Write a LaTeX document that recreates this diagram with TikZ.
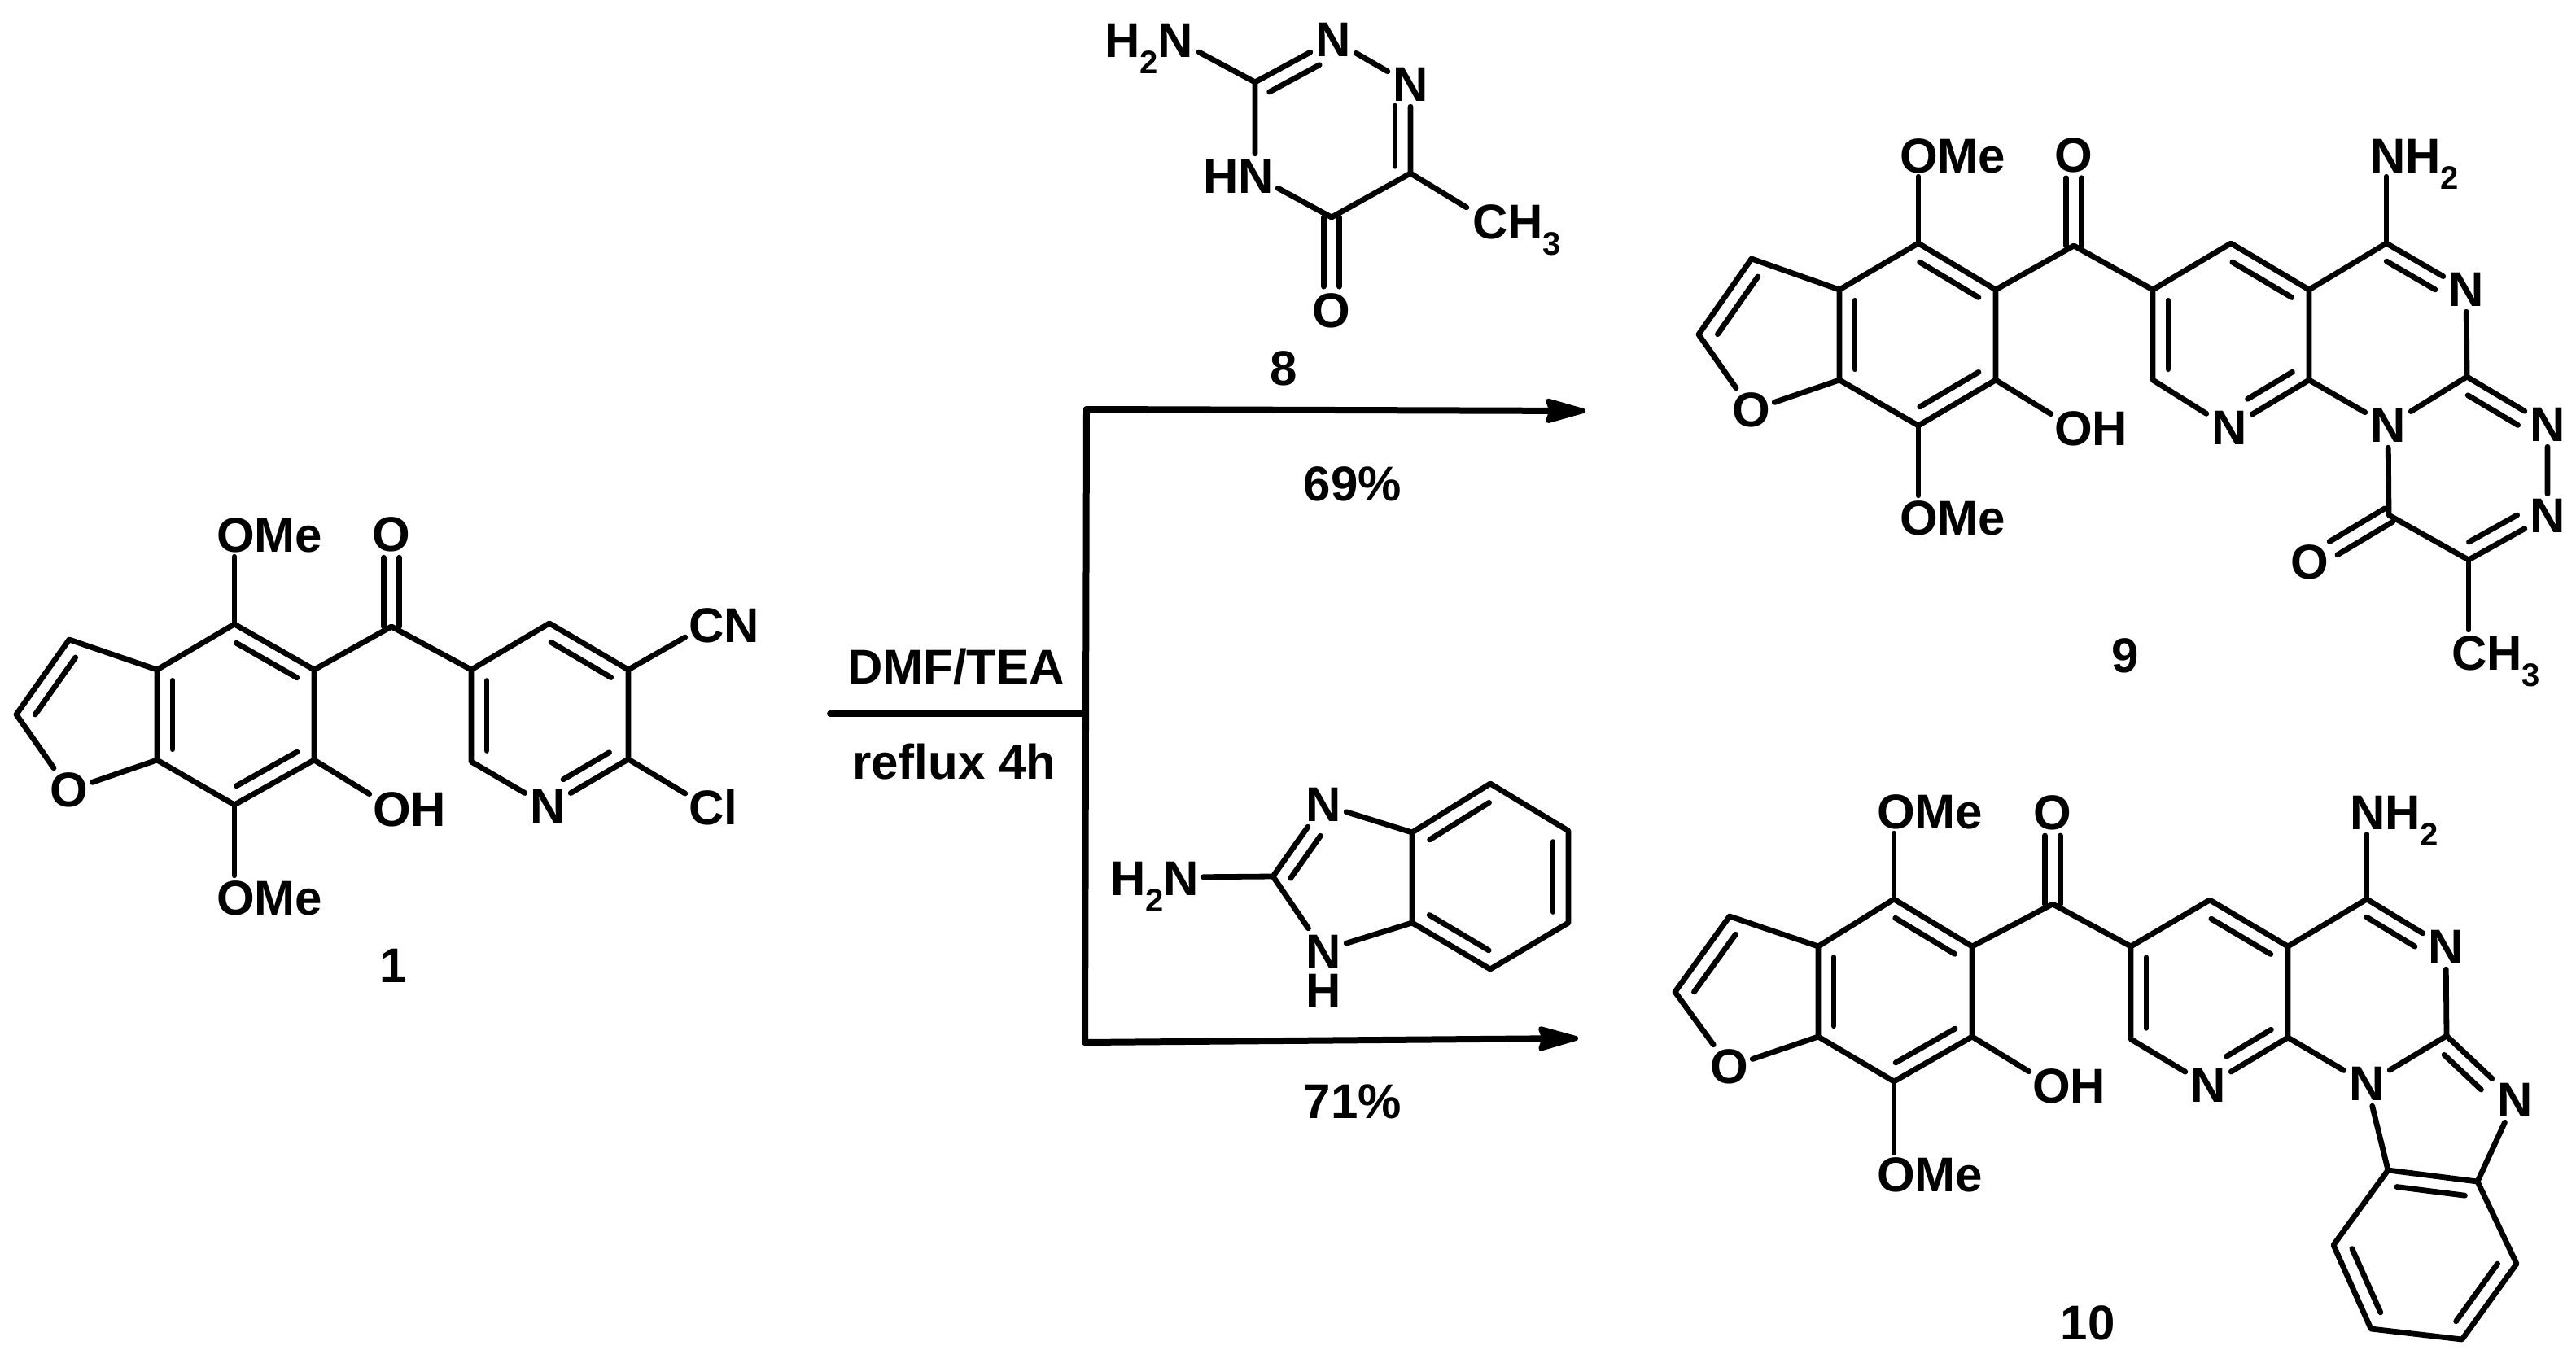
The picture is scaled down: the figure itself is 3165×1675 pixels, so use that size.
\documentclass[tikz,border=0pt]{standalone}
\usepackage{fontspec}
\setmainfont{Liberation Sans}
\usetikzlibrary{calc,arrows.meta}
\newcommand\lab{\fontsize{60}{60}\selectfont\bfseries}
\newcommand\subs[1]{\raisebox{-20pt}{\fontsize{40}{40}\selectfont #1}}
% inner line of a double bond, on the right-hand side of a->b
\newcommand\dblf[4]{\draw[bond] ($(#1)!#3!(#2)!19pt!-90:(#2)$) -- ($(#2)!#4!(#1)!19pt!90:(#1)$);}
\newcommand\dbl[2]{\dblf{#1}{#2}{.12}{.12}}
% symmetric double bond a=b, ending at fraction #3 of the way
\newcommand\sdbl[3]{\draw[bond] ($(#1)!9.5pt!90:(#2)$) -- ($(#1)!#3!(#2)!9.5pt!90:(#2)$);
  \draw[bond] ($(#1)!9.5pt!-90:(#2)$) -- ($(#1)!#3!(#2)!9.5pt!-90:(#2)$);}
\tikzset{
  bond/.style={line width=6.8pt,line cap=round,line join=round,black},
  rxn/.style={line width=8pt,line cap=round,line join=round,black},
  rxnhead/.style={rxn,-{Stealth[round,length=58pt,width=32pt,inset=5pt,line width=6pt]}},
  atom/.style={rectangle,inner sep=0pt,minimum width=56pt,minimum height=54pt,font=\lab},
  txt/.style={inner sep=0pt,anchor=base west,font=\lab},
  ctr/.style={inner sep=0pt,anchor=base,font=\lab}
}
\begin{document}
\begin{tikzpicture}[x=1pt,y=-1pt]
\useasboundingbox (0,0) rectangle (3165,1675);

% ===== compound 1 =====
\coordinate (a1) at (288,767);\coordinate (a2) at (386,823);\coordinate (a3) at (386,934);
\coordinate (a4) at (288,989);\coordinate (a5) at (193,934);\coordinate (a6) at (193,823);
\coordinate (af3) at (85,786);\coordinate (af2) at (20,878);
\node[atom] (afO) at (85,971) {O};
\coordinate (ac) at (481,770);\node[atom] (acO) at (481,657) {O};
\coordinate (ap1) at (579,823);\coordinate (ap2) at (675,766);\coordinate (ap3) at (772,823);
\coordinate (ap4) at (772,933);\node[atom] (apN) at (673,991) {N};\coordinate (ap6) at (579,936);
\node[atom] (aOa) at (288,657) {};\node[txt] (aOat) at (266,678) {OMe};
\node[atom] (aOb) at (288,1103) {};\node[txt] (aObt) at (266,1124) {OMe};
\node[atom] (aOH) at (482,993) {};\node[txt] (aOHt) at (458,1015) {OH};
\node[atom] (aCN) at (870,767) {};\node[txt] (aCNt) at (846,789) {CN};
\node[atom] (aCl) at (870,992) {};\node[txt] (aClt) at (846,1013) {Cl};
\node[ctr] (alab) at (483,1207) {1};
\draw[bond] (a1)--(a2)--(a3)--(a4)--(a5)--(a6)--cycle;
\draw[bond] (a6)--(af3)--(af2)--(afO)--(a5);
\draw[bond] (a1)--(aOa);\draw[bond] (a4)--(aOb);\draw[bond] (a3)--(aOH);
\draw[bond] (a2)--(ac)--(ap1);\sdbl{ac}{acO}{.75}
\draw[bond] (ap1)--(ap2)--(ap3)--(ap4)--(apN)--(ap6)--(ap1);
\draw[bond] (ap3)--(aCN);\draw[bond] (ap4)--(aCl);
\dbl{a1}{a2}\dbl{a3}{a4}\dbl{a5}{a6}\dbl{af2}{af3}\dbl{ap6}{ap1}\dbl{ap2}{ap3}\dblf{ap4}{apN}{.14}{.29}

% ===== reagent 8 =====
\node[atom] (bNa) at (1445,49) {};\node[txt] (bNat) at (1357,71) {H\subs{2}N};
\coordinate (bc1) at (1542,101);
\node[atom] (bN1) at (1638,49) {N};\node[atom] (bN2) at (1733,104) {N};
\coordinate (bc6) at (1733,213);\coordinate (bc5) at (1636,267);
\node[atom] (bNH) at (1542,216) {};\node[txt] (bNHt) at (1478,237) {HN};
\node[atom] (bO) at (1636,382) {O};
\node[atom] (bMe) at (1830,272) {};\node[txt] (bMet) at (1809,293) {CH\subs{3}};
\node[ctr] (blab) at (1577,473) {8};
\draw[bond] (bNa)--(bc1)--(bN1)--(bN2)--(bc6)--(bc5)--(bNH)--(bc1);
\draw[bond] (bc6)--(bMe);\sdbl{bc5}{bO}{.74}
\dblf{bc1}{bN1}{.09}{.27}\dblf{bN2}{bc6}{.24}{.08}

% ===== reagent 2-aminobenzimidazole =====
\node[atom] (cNa) at (1450,1078) {};\node[txt] (cNat) at (1364,1100) {H\subs{2}N};
\coordinate (cc2) at (1564,1077);
\node[atom] (cN3) at (1626,989) {N};\node[atom] (cN1) at (1626,1168) {};
\node[inner sep=0pt,align=center,font=\fontsize{60}{48}\selectfont\bfseries] (cN1t) at (1626,1194) {N\\H};
\coordinate (cc3a) at (1735,1023);\coordinate (cc7a) at (1735,1134);
\coordinate (cc4) at (1831,963);\coordinate (cc5) at (1927,1021);
\coordinate (cc6) at (1927,1134);\coordinate (cc7) at (1831,1191);
\draw[bond] (cNa)--(cc2)--(cN3)--(cc3a)--(cc7a)--(cN1)--(cc2);
\draw[bond] (cc3a)--(cc4)--(cc5)--(cc6)--(cc7)--(cc7a);
\dblf{cc2}{cN3}{.10}{.31}\dbl{cc3a}{cc4}\dbl{cc5}{cc6}\dbl{cc7}{cc7a}

% ===== compound 9 =====
\coordinate (d1) at (2357,299);\coordinate (d2) at (2452,356);\coordinate (d3) at (2452,467);
\coordinate (d4) at (2357,523);\coordinate (d5) at (2260,467);\coordinate (d6) at (2260,356);
\coordinate (df3) at (2152,318);\coordinate (df2) at (2087,411);
\node[atom] (dfO) at (2152,504) {O};
\node[atom] (dOa) at (2357,190) {};\node[txt] (dOat) at (2334,212) {OMe};
\node[atom] (dOb) at (2357,636) {};\node[txt] (dObt) at (2334,657) {OMe};
\node[atom] (dOH) at (2548,526) {};\node[txt] (dOHt) at (2524,547) {OH};
\coordinate (dc) at (2548,302);\node[atom] (dcO) at (2548,191) {O};
\coordinate (dp1) at (2645,356);\coordinate (dp2) at (2741,299);\coordinate (dp3) at (2837,356);
\coordinate (dp4) at (2837,467);\node[atom] (dpN) at (2739,526) {N};\coordinate (dp6) at (2645,467);
\coordinate (dq4) at (2932,299);
\node[atom] (dNa) at (2932,190) {};\node[txt] (dNat) at (2912,212) {NH\subs{2}};
\node[atom] (dN5) at (3030,356) {N};\coordinate (dq2) at (3031,463);
\node[atom] (dNb) at (2934,523) {N};\node[atom] (dN3) at (3130,522) {N};
\node[atom] (dN4) at (3130,634) {N};\coordinate (dq6) at (3033,688);
\coordinate (dq7) at (2935,633);\node[atom] (dqO) at (2838,691) {O};
\node[atom] (dMe) at (3033,801) {};\node[txt] (dMet) at (3012,823) {CH\subs{3}};
\node[ctr] (dlab) at (2611,826) {9};
\draw[bond] (d1)--(d2)--(d3)--(d4)--(d5)--(d6)--cycle;
\draw[bond] (d6)--(df3)--(df2)--(dfO)--(d5);
\draw[bond] (d1)--(dOa);\draw[bond] (d4)--(dOb);\draw[bond] (d3)--(dOH);
\draw[bond] (d2)--(dc)--(dp1);\sdbl{dc}{dcO}{.75}
\draw[bond] (dp1)--(dp2)--(dp3)--(dp4)--(dpN)--(dp6)--(dp1);
\draw[bond] (dp3)--(dq4)--(dN5)--(dq2)--(dNb)--(dp4);
\draw[bond] (dq4)--(dNa);
\draw[bond] (dq2)--(dN3)--(dN4)--(dq6)--(dq7)--(dNb);
\draw[bond] (dq6)--(dMe);\sdbl{dq7}{dqO}{.7}
\dbl{d1}{d2}\dbl{d3}{d4}\dbl{d5}{d6}\dbl{df2}{df3}\dbl{dp6}{dp1}\dbl{dp2}{dp3}
\dblf{dp4}{dpN}{.11}{.33}\dblf{dq4}{dN5}{.10}{.29}\dblf{dq2}{dN3}{.11}{.27}\dblf{dN4}{dq6}{.29}{.10}

% ===== compound 10 =====
\coordinate (e1) at (2327,1105);\coordinate (e2) at (2423,1163);\coordinate (e3) at (2423,1274);
\coordinate (e4) at (2327,1329);\coordinate (e5) at (2234,1274);\coordinate (e6) at (2234,1163);
\coordinate (ef3) at (2125,1126);\coordinate (ef2) at (2058,1219);
\node[atom] (efO) at (2125,1311) {O};
\node[atom] (eOa) at (2327,997) {};\node[txt] (eOat) at (2306,1018) {OMe};
\node[atom] (eOb) at (2327,1444) {};\node[txt] (eObt) at (2306,1464) {OMe};
\node[atom] (eOH) at (2521,1334) {};\node[txt] (eOHt) at (2497,1355) {OH};
\coordinate (ec) at (2522,1111);\node[atom] (ecO) at (2522,999) {O};
\coordinate (ep1) at (2618,1163);\coordinate (ep2) at (2715,1106);\coordinate (ep3) at (2811,1163);
\coordinate (ep4) at (2811,1275);\node[atom] (epN) at (2713,1334) {N};\coordinate (ep6) at (2618,1277);
\coordinate (eq4) at (2908,1105);
\node[atom] (eNa) at (2908,998) {};\node[txt] (eNat) at (2887,1019) {NH\subs{2}};
\node[atom] (eN5) at (3005,1164) {N};\coordinate (eq2) at (3006,1273);
\node[atom] (eNb) at (2908,1332) {N};\node[atom] (eN3) at (3090,1352) {N};
\coordinate (er1) at (2934,1438);\coordinate (er2) at (3044,1452);\coordinate (er3) at (3092,1553);
\coordinate (er4) at (3025,1646);\coordinate (er5) at (2913,1633);\coordinate (er6) at (2867,1530);
\node[ctr] (elab) at (2565,1646) {10};
\draw[bond] (e1)--(e2)--(e3)--(e4)--(e5)--(e6)--cycle;
\draw[bond] (e6)--(ef3)--(ef2)--(efO)--(e5);
\draw[bond] (e1)--(eOa);\draw[bond] (e4)--(eOb);\draw[bond] (e3)--(eOH);
\draw[bond] (e2)--(ec)--(ep1);\sdbl{ec}{ecO}{.75}
\draw[bond] (ep1)--(ep2)--(ep3)--(ep4)--(epN)--(ep6)--(ep1);
\draw[bond] (ep3)--(eq4)--(eN5)--(eq2)--(eNb)--(ep4);
\draw[bond] (eq4)--(eNa);
\draw[bond] (eq2)--(eN3)--(er2)--(er1)--(eNb);
\draw[bond] (er2)--(er3)--(er4)--(er5)--(er6)--(er1);
\dbl{e1}{e2}\dbl{e3}{e4}\dbl{e5}{e6}\dbl{ef2}{ef3}\dbl{ep6}{ep1}\dbl{ep2}{ep3}
\dblf{ep4}{epN}{.11}{.33}\dblf{eq4}{eN5}{.10}{.29}\dblf{eq2}{eN3}{.12}{.34}
\dbl{er1}{er2}\dbl{er3}{er4}\dbl{er5}{er6}

% ===== reaction scheme =====
\coordinate (rs) at (1020,877);\coordinate (rj) at (1333,877);
\coordinate (rt) at (1335,503);\coordinate (rb) at (1333,1281);
\coordinate (rte) at (1948,505);\coordinate (rbe) at (1939,1276);
\draw[rxn] (rs)--(rj);\draw[rxn] (rt)--(rb);
\draw[rxnhead] (rt)--(rte);\draw[rxnhead] (rb)--(rbe);
\node[txt] (rDMF) at (1041,840) {DMF/TEA};
\node[txt] (rref) at (1047,957) {reflux 4h};
\node[ctr] (ry1) at (1662,615) {69\%};
\node[ctr] (ry2) at (1662,1374) {71\%};
\end{tikzpicture}
\end{document}
